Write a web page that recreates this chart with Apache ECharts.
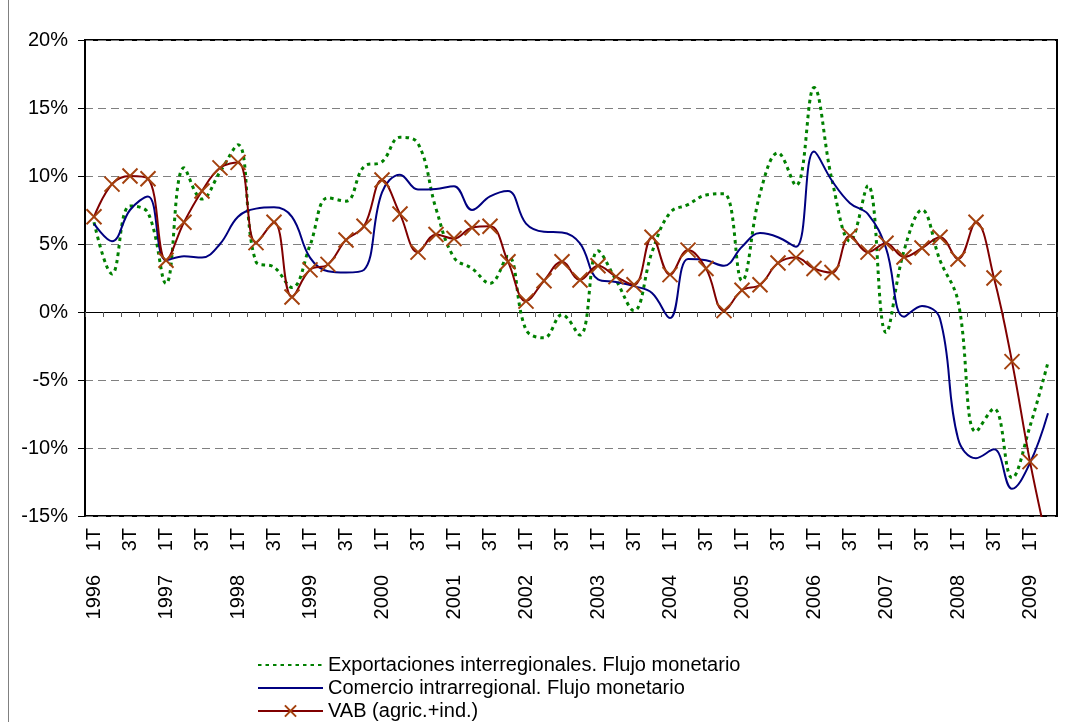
<!DOCTYPE html>
<html>
<head>
<meta charset="utf-8">
<script src="https://cdn.jsdelivr.net/npm/echarts@6/dist/echarts.min.js"></script>
<style>
html, body { margin: 0; padding: 0; background: #fff; }
#chart { width: 1068px; height: 722px; }
</style>
</head>
<body>
<div id="chart"></div>
<script>
// quarters 1996 1T .. 2009 2T
var years = [1996, 1997, 1998, 1999, 2000, 2001, 2002, 2003, 2004, 2005, 2006, 2007, 2008, 2009];
var quarterNames = ['1T', '2T', '3T', '4T'];
var quartersInLastYear = 2;

var exportaciones = [6.6, 2.8, 7.8, 7.3, 2.1, 10.6, 8.3, 10.3, 12.3, 3.7, 3.3, 1.8,
	4.9, 8.4, 8.15, 10.7, 11.05, 12.85, 12.4, 7.6, 4.0, 3.2, 2.1, 4.1,
	-1.3, -1.9, -0.2, -1.7, 4.5, 2.35, 0.1, 4.4, 7.3, 7.9, 8.6, 8.7,
	2.3, 8.7, 11.7, 9.3, 16.5, 9.7, 5.2, 9.3, -1.5, 4.5, 7.5, 3.8,
	0.8, -8.8, -7.1, -12.2, -8.4, -3.7];
var comercio = [6.5, 5.2, 7.5, 8.5, 3.8, 4.1, 4.0, 5.0, 7.0, 7.6, 7.7, 7.0,
	4.0, 3.0, 2.9, 3.1, 8.8, 10.1, 9.0, 9.05, 9.25, 7.5, 8.5, 8.9,
	6.5, 5.9, 5.85, 5.05, 2.4, 2.2, 1.9, 1.4, -0.45, 3.9, 3.8, 3.4,
	4.8, 5.8, 5.5, 4.8, 11.8, 9.65, 8.0, 7.2, 4.7, -0.35, 0.45, -0.5,
	-9.3, -10.75, -10.1, -13.0, -11.1, -7.45];
var vab = [7.0, 9.4, 10.0, 9.8, 3.8, 6.6, 8.9, 10.6, 11.0, 5.1, 6.6, 1.1,
	3.1, 3.5, 5.3, 6.3, 9.7, 7.2, 4.4, 5.7, 5.4, 6.2, 6.3, 3.7,
	0.8, 2.3, 3.7, 2.35, 3.4, 2.6, 2.0, 5.5, 2.75, 4.55, 3.2, 0.1,
	1.6, 2.0, 3.6, 4.0, 3.2, 2.9, 5.6, 4.4, 5.05, 4.05, 4.7, 5.5,
	3.9, 6.6, 2.5, -3.65, -11.0, -17.2];

var seriesNames = ['Exportaciones interregionales. Flujo monetario',
	'Comercio intrarregional. Flujo monetario',
	'VAB (agric.+ind.)'];

var categories = [];
for (var y = 0; y < years.length; y++) {
	var n = (y == years.length - 1) ? quartersInLastYear : 4;
	for (var q = 0; q < n; q++) {
		categories.push(years[y] + ' ' + quarterNames[q]);
	}
}

var font = 'Liberation Sans, Arial, sans-serif';
var myChart = echarts.init(document.getElementById('chart'));

// legend entries of the two plain lines carry no marker
var noMarker = { opacity: 0, color: 'rgba(0,0,0,0)', borderWidth: 0 };

var option = {
	animation: false,
	backgroundColor: '#fff',
	graphic: [{
		type: 'line',
		shape: { x1: 8.5, y1: 0, x2: 8.5, y2: 722 },
		style: { stroke: '#808080', lineWidth: 1 }
	}],
	grid: {
		left: 85, right: 11, top: 40, bottom: 206,
		show: true, borderColor: '#000', borderWidth: 2,
		outerBoundsMode: 'none'
	},
	legend: {
		orient: 'vertical',
		left: 257,
		top: 655,
		padding: 0,
		itemWidth: 65,
		itemHeight: 14,
		itemGap: 3,
		textStyle: { fontSize: 20, color: '#000', fontFamily: font },
		data: [
			{ name: seriesNames[0], itemStyle: noMarker },
			{ name: seriesNames[1], itemStyle: noMarker },
			{ name: seriesNames[2] }
		]
	},
	xAxis: [{
		type: 'category',
		data: categories,
		boundaryGap: true,
		position: 'bottom',
		axisLine: { onZero: true, lineStyle: { color: '#000', width: 1 } },
		axisTick: { show: true, interval: 0, length: 5, lineStyle: { color: '#555' } },
		axisLabel: { show: false },
		splitLine: { show: false }
	}, {
		type: 'category',
		data: categories,
		boundaryGap: true,
		position: 'bottom',
		axisLine: { show: false, onZero: false },
		axisTick: { show: false },
		axisLabel: {
			interval: 1, rotate: 90, margin: 12,
			fontSize: 20, color: '#000', fontFamily: font,
			formatter: function (v) { return v.split(' ')[1]; }
		}
	}, {
		type: 'category',
		data: categories,
		boundaryGap: true,
		position: 'bottom',
		axisLine: { show: false, onZero: false },
		axisTick: { show: false },
		axisLabel: {
			interval: 3, rotate: 90, margin: 59,
			fontSize: 20, color: '#000', fontFamily: font,
			formatter: function (v) { return v.split(' ')[0]; }
		}
	}],
	yAxis: {
		type: 'value',
		min: -15, max: 20, interval: 5,
		axisLine: { show: true, lineStyle: { color: '#000', width: 2 } },
		axisTick: { show: true, length: 7, lineStyle: { color: '#000' } },
		axisLabel: { formatter: '{value}%', margin: 17, fontSize: 20, color: '#000', fontFamily: font },
		splitLine: { show: true, lineStyle: { color: '#808080', type: [8, 5], width: 1 } }
	},
	series: [{
		name: seriesNames[0],
		type: 'line',
		data: exportaciones,
		smooth: 0.4,
		symbol: 'none',
		lineStyle: { color: '#008000', width: 3, type: [3.5, 4] },
		itemStyle: { color: '#008000' }
	}, {
		name: seriesNames[1],
		type: 'line',
		data: comercio,
		smooth: 0.4,
		symbol: 'none',
		lineStyle: { color: '#000080', width: 2 },
		itemStyle: { color: '#000080' }
	}, {
		name: seriesNames[2],
		type: 'line',
		data: vab,
		smooth: 0.4,
		symbol: 'path://M0,0L10,10M10,0L0,10',
		symbolSize: 15,
		showAllSymbol: true,
		lineStyle: { color: '#800000', width: 2 },
		itemStyle: { color: '#a4420f', borderColor: '#a4420f', borderWidth: 2 }
	}]
};
myChart.setOption(option);
</script>
</body>
</html>
